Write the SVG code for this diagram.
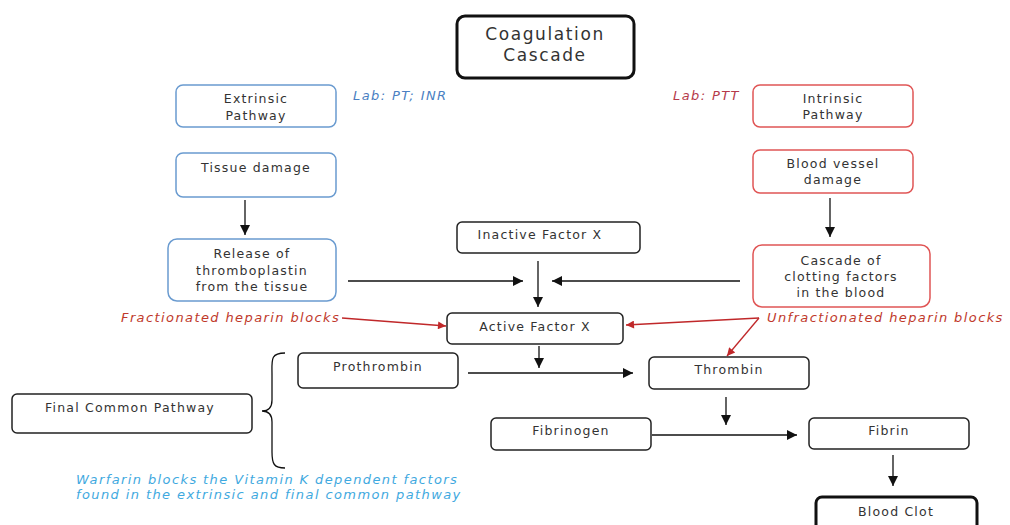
<svg xmlns="http://www.w3.org/2000/svg" width="1010" height="525" viewBox="0 0 1010 525">
<defs>
<style>
.box{fill:#fff;stroke:#222;stroke-width:1.5}
.thick{fill:#fff;stroke:#111;stroke-width:3}
.blue{fill:#fff;stroke:#6a9bd0;stroke-width:1.5}
.red{fill:#fff;stroke:#e05555;stroke-width:1.5}
.t{font-family:"DejaVu Sans",Verdana,sans-serif;font-size:12.5px;letter-spacing:1.2px;fill:#333;text-anchor:middle;dominant-baseline:central}
.big{font-size:17px;letter-spacing:1.6px}
.it{font-family:"DejaVu Sans",Verdana,sans-serif;font-style:italic;font-size:13px;letter-spacing:1.4px;dominant-baseline:central}
.con{stroke:#111;stroke-width:1.3;fill:none}
.rcon{stroke:#c0282a;stroke-width:1.3;fill:none}
</style>
<marker id="ah" viewBox="0 0 10 10" refX="10" refY="5" markerWidth="10" markerHeight="10" markerUnits="userSpaceOnUse" orient="auto"><path d="M0,0 L10,5 L0,10 z" fill="#111"/></marker>
<marker id="rah" viewBox="0 0 10 10" refX="10" refY="5" markerWidth="10" markerHeight="8" markerUnits="userSpaceOnUse" orient="auto"><path d="M0,0 L10,5 L0,10 z" fill="#c0282a"/></marker>
</defs>
<rect width="1010" height="525" fill="#fff"/>
<g id="connectors">
<path class="con" d="M245,200 V235" marker-end="url(#ah)"/>
<path class="con" d="M830,198 V237" marker-end="url(#ah)"/>
<path class="con" d="M348,281 H523" marker-end="url(#ah)"/>
<path class="con" d="M740,281 H552" marker-end="url(#ah)"/>
<path class="con" d="M538,261 V307" marker-end="url(#ah)"/>
<path class="con" d="M539,346 V368" marker-end="url(#ah)"/>
<path class="con" d="M468,373 H633" marker-end="url(#ah)"/>
<path class="con" d="M726,397 V425" marker-end="url(#ah)"/>
<path class="con" d="M652,435 H797" marker-end="url(#ah)"/>
<path class="con" d="M893,455 V486" marker-end="url(#ah)"/>
<path class="rcon" d="M342,318 L446,326" marker-end="url(#rah)"/>
<path class="rcon" d="M759,318 L626,325" marker-end="url(#rah)"/>
<path class="rcon" d="M759,318 L727,356" marker-end="url(#rah)"/>
<path class="con" d="M285,353 C270,353 272,360 272,375 V400 C272,408 268,411 262,411 C268,411 272,414 272,422 V452 C272,464 274,468 285,468"/>
</g>
<g id="coagulation-cascade"><rect class="thick" x="457" y="16" width="177" height="62" rx="8"/><text class="t big" x="545" y="34">Coagulation</text><text class="t big" x="545" y="55">Cascade</text></g>
<g id="extrinsic-pathway"><rect class="blue" x="176" y="85" width="160" height="42" rx="7"/><text class="t" x="256" y="98">Extrinsic</text><text class="t" x="256" y="115">Pathway</text></g>
<g id="lab-pt"><text class="it" x="353" y="95" fill="#4a7fc2">Lab: PT; INR</text></g>
<g id="lab-ptt"><text class="it" x="673" y="95" fill="#b53a4a">Lab: PTT</text></g>
<g id="intrinsic-pathway"><rect class="red" x="753" y="85" width="160" height="42" rx="7"/><text class="t" x="833" y="98">Intrinsic</text><text class="t" x="833" y="114">Pathway</text></g>
<g id="tissue-damage"><rect class="blue" x="176" y="153" width="160" height="44" rx="7"/><text class="t" x="256" y="167">Tissue damage</text></g>
<g id="blood-vessel-damage"><rect class="red" x="753" y="150" width="160" height="43" rx="7"/><text class="t" x="833" y="163">Blood vessel</text><text class="t" x="833" y="179">damage</text></g>
<g id="release-thromboplastin"><rect class="blue" x="168" y="239" width="168" height="62" rx="9"/><text class="t" x="252" y="253">Release of</text><text class="t" x="252" y="270">thromboplastin</text><text class="t" x="252" y="286">from the tissue</text></g>
<g id="inactive-factor-x"><rect class="box" x="457" y="222" width="183" height="31" rx="5"/><text class="t" x="540" y="234">Inactive Factor X</text></g>
<g id="cascade-clotting"><rect class="red" x="753" y="245" width="177" height="62" rx="9"/><text class="t" x="841" y="260">Cascade of</text><text class="t" x="841" y="276">clotting factors</text><text class="t" x="841" y="292">in the blood</text></g>
<g id="fractionated-label"><text class="it" x="121" y="317" fill="#c0392b">Fractionated heparin blocks</text></g>
<g id="unfractionated-label"><text class="it" x="767" y="317" fill="#c0392b">Unfractionated heparin blocks</text></g>
<g id="active-factor-x"><rect class="box" x="447" y="313" width="176" height="31" rx="5"/><text class="t" x="535" y="326">Active Factor X</text></g>
<g id="prothrombin"><rect class="box" x="298" y="353" width="160" height="35" rx="5"/><text class="t" x="378" y="366">Prothrombin</text></g>
<g id="thrombin"><rect class="box" x="649" y="357" width="160" height="32" rx="5"/><text class="t" x="729" y="369">Thrombin</text></g>
<g id="final-common-pathway"><rect class="box" x="12" y="394" width="240" height="39" rx="5"/><text class="t" x="130" y="407">Final Common Pathway</text></g>
<g id="fibrinogen"><rect class="box" x="491" y="418" width="160" height="32" rx="5"/><text class="t" x="571" y="430">Fibrinogen</text></g>
<g id="fibrin"><rect class="box" x="809" y="418" width="160" height="31" rx="5"/><text class="t" x="889" y="430">Fibrin</text></g>
<g id="warfarin-label"><text class="it" x="76" y="479" fill="#3fa9e0">Warfarin blocks the Vitamin K dependent factors</text><text class="it" x="76" y="494" fill="#3fa9e0">found in the extrinsic and final common pathway</text></g>
<g id="blood-clot"><rect class="thick" x="816" y="497" width="161" height="40" rx="6"/><text class="t" x="896" y="511">Blood Clot</text></g>
</svg>
